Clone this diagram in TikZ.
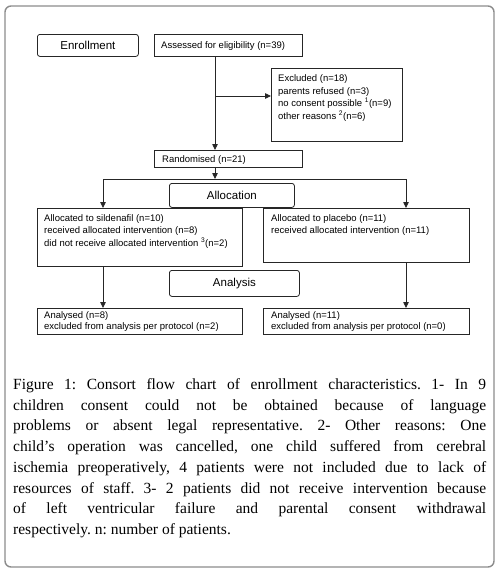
\documentclass[tikz,border=0pt]{standalone}
\usepackage{fontspec}
\setmainfont{Liberation Serif}
\setsansfont{Liberation Sans}
\usetikzlibrary{arrows.meta}
\frenchspacing
\begin{document}
\begin{tikzpicture}[x=1pt,y=-1pt,
  box/.style={draw=black!85,line width=0.8pt,inner sep=0pt,anchor=north west},
  rbox/.style={box,rounded corners=2.5pt},
  txt/.style={inner sep=0pt,anchor=base west,text=black,font=\sffamily\fontsize{9.5}{12}\selectfont},
  head/.style={inner sep=0pt,text=black,font=\sffamily\fontsize{11.5}{13}\selectfont},
  conn/.style={draw=black!85,line width=0.8pt},
  arr/.style={conn,-{Triangle[length=6pt,width=5.5pt]}}]
\useasboundingbox (0,0) rectangle (498,570);
\draw[draw=black!45,line width=1.4pt,rounded corners=6pt] (5,6) rectangle (494,567);
% boxes
\node[rbox,minimum width=101pt,minimum height=22pt] (enr) at (37,34) {};
\node[head] (enrt) at (enr.center) {Enrollment};
\node[box,minimum width=148pt,minimum height=22pt] (ass) at (154,34) {};
\node[txt] (asst) at (161,48.5) {Assessed for eligibility (n=39)};
\node[box,minimum width=131pt,minimum height=73pt] (exc) at (271,68) {};
\node[txt] (exc1) at (278,81.5) {Excluded (n=18)};
\node[txt] (exc2) at (278,94) {parents refused (n=3)};
\node[txt] (exc3) at (278,106.5) {no consent possible \textsuperscript{1}(n=9)};
\node[txt] (exc4) at (278,119) {other reasons \textsuperscript{2}(n=6)};
\node[box,minimum width=148pt,minimum height=17pt] (ran) at (154,150) {};
\node[txt] (rant) at (162,162) {Randomised (n=21)};
\node[rbox,minimum width=125pt,minimum height=24pt] (alc) at (169,183) {};
\node[head] (alct) at (alc.center) {Allocation};
\node[box,minimum width=205pt,minimum height=58pt] (lft) at (37,208) {};
\node[txt] (lft1) at (44,221) {Allocated to sildenafil (n=10)};
\node[txt] (lft2) at (44,233.5) {received allocated intervention (n=8)};
\node[txt] (lft3) at (44,246) {did not receive allocated intervention \textsuperscript{3}(n=2)};
\node[box,minimum width=206pt,minimum height=54pt] (rgt) at (263,208) {};
\node[txt] (rgt1) at (271,221) {Allocated to placebo (n=11)};
\node[txt] (rgt2) at (271,233.5) {received allocated intervention (n=11)};
\node[rbox,minimum width=130pt,minimum height=26pt] (ana) at (169,270) {};
\node[head] (anat) at (ana.center) {Analysis};
\node[box,minimum width=205pt,minimum height=26pt] (lan) at (37,308) {};
\node[txt] (lan1) at (44,318) {Analysed (n=8)};
\node[txt] (lan2) at (44,329.5) {excluded from analysis per protocol (n=2)};
\node[box,minimum width=206pt,minimum height=26pt] (ran2) at (263,308) {};
\node[txt] (ran1) at (271,318) {Analysed (n=11)};
\node[txt] (ran3) at (271,329.5) {excluded from analysis per protocol (n=0)};
% connectors
\coordinate (trunk) at (215,96);
\coordinate (sl) at (103,179);
\coordinate (sr) at (406,179);
\draw[arr] (ass.south -| trunk) -- (ran.north -| trunk);
\draw[arr] (trunk) -- (exc.west |- trunk);
\draw[arr] (ran.south -| trunk) -- (trunk |- sl);
\draw[conn] (sl) -- (sr);
\draw[arr] (sl) -- (sl |- lft.north);
\draw[arr] (sr) -- (sr |- rgt.north);
\draw[arr] (lft.south -| sl) -- (sl |- lan.north);
\draw[arr] (rgt.south -| sr) -- (sr |- ran2.north);
% caption
\node[inner sep=0pt,anchor=north west,text=black,font=\rmfamily\fontsize{15.5}{20.7}\selectfont] (cap) at (13,378.4) {\vbox{\hsize=473pt\baselineskip=20.7pt
\hbox to\hsize{Figure 1: Consort flow chart of enrollment characteristics. 1- In 9}
\hbox to\hsize{children consent could not be obtained because of language}
\hbox to\hsize{problems or absent legal representative. 2- Other reasons: One}
\hbox to\hsize{child’s operation was cancelled, one child suffered from cerebral}
\hbox to\hsize{ischemia preoperatively, 4 patients were not included due to lack of}
\hbox to\hsize{resources of staff. 3- 2 patients did not receive intervention because}
\hbox to\hsize{of left ventricular failure and parental consent withdrawal}
\hbox{respectively. n: number of patients.}}};
\end{tikzpicture}
\end{document}
